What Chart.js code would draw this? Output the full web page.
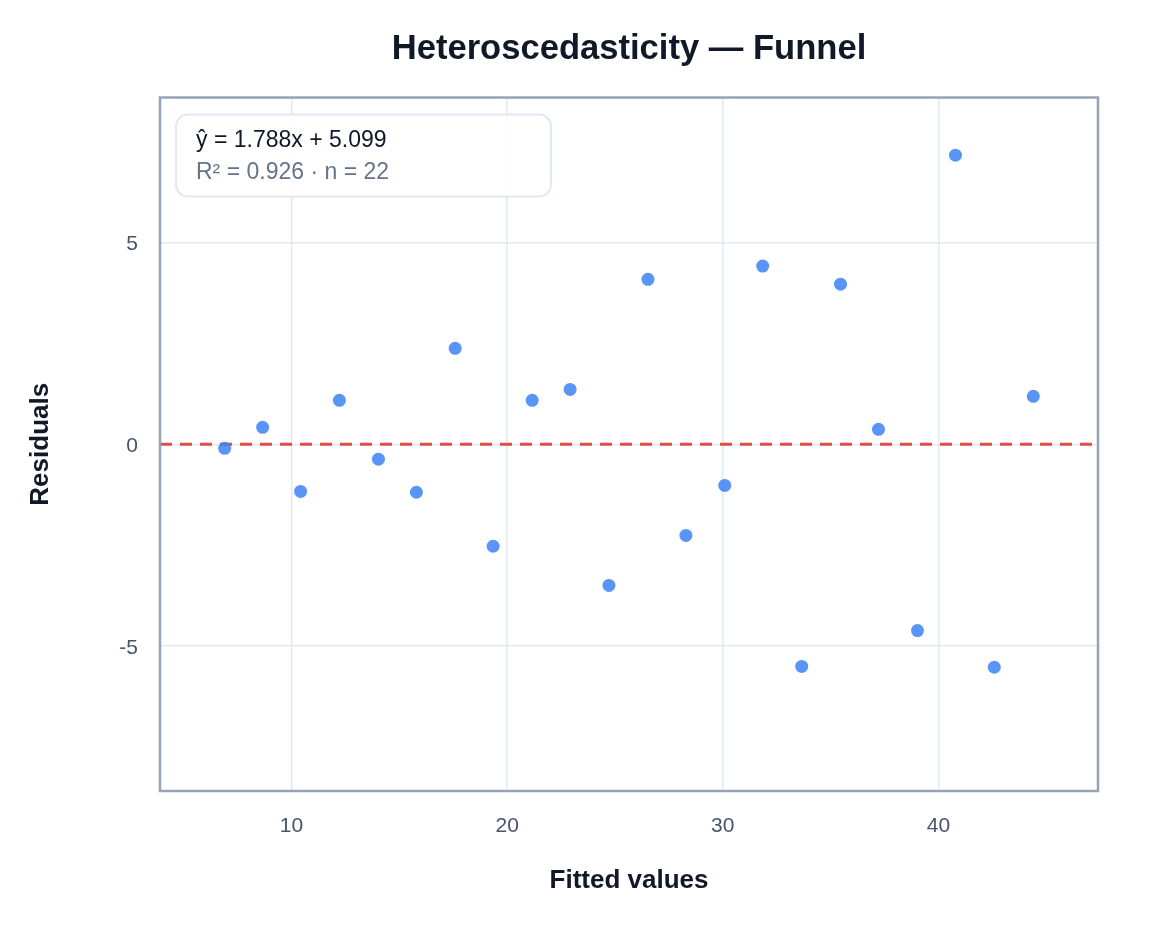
<!DOCTYPE html>
<html>
<head>
<meta charset="utf-8">
<title>Heteroscedasticity — Funnel</title>
<script src="https://cdn.jsdelivr.net/npm/chart.js@4"></script>
<style>
    html, body { margin: 0; padding: 0; background: #ffffff; }
    #wrap { width: 1160px; height: 943px; }
</style>
</head>
<body>
<div id="wrap"><canvas id="residualChart" width="1160" height="943"></canvas></div>
<script>
// Chart data
const fittedValues = [6.90, 8.66, 10.42, 12.22, 14.03, 15.79, 17.59, 19.35, 21.16, 22.92, 24.72,
                      26.53, 28.29, 30.09, 31.85, 33.66, 35.46, 37.22, 39.03, 40.79, 42.59, 44.40];
const residuals = [-0.10, 0.42, -1.17, 1.09, -0.37, -1.19, 2.38, -2.53, 1.09, 1.36, -3.50,
                   4.09, -2.26, -1.02, 4.42, -5.51, 3.97, 0.37, -4.62, 7.17, -5.53, 1.19];
const xRange = [3.9, 47.4];
const yRange = [-8.6, 8.6];
const xTickStep = 10;
const yTickStep = 5;
const zeroLine = 0;
const fitLines = ['ŷ = 1.788x + 5.099', 'R² = 0.926 · n = 22'];

const FONT = '"Liberation Sans", Arial, Helvetica, sans-serif';

// Frame around the plot area + dashed zero line + fit annotation
const decorPlugin = {
    id: 'decor',
    beforeDatasetsDraw(chart) {
        const { ctx, chartArea, scales } = chart;
        const y = scales.y.getPixelForValue(zeroLine);
        ctx.save();
        ctx.strokeStyle = 'rgba(229, 57, 53, 0.9)';
        ctx.lineWidth = 3;
        ctx.setLineDash([12, 8]);
        ctx.beginPath();
        ctx.moveTo(chartArea.left, y);
        ctx.lineTo(chartArea.right, y);
        ctx.stroke();
        ctx.restore();
    },
    afterDraw(chart) {
        const { ctx, chartArea } = chart;
        ctx.save();
        ctx.strokeStyle = '#94a3b8';
        ctx.lineWidth = 2.5;
        ctx.strokeRect(chartArea.left, chartArea.top, chartArea.right - chartArea.left, chartArea.bottom - chartArea.top);

        // annotation box
        const bx = chartArea.left + 16, by = chartArea.top + 17, bw = 375, bh = 82;
        ctx.beginPath();
        ctx.roundRect(bx, by, bw, bh, 12);
        ctx.fillStyle = 'rgba(255, 255, 255, 0.9)';
        ctx.fill();
        ctx.strokeStyle = '#e2e8f0';
        ctx.lineWidth = 2;
        ctx.stroke();

        ctx.textBaseline = 'middle';
        ctx.textAlign = 'left';
        ctx.font = '23px ' + FONT;
        ctx.fillStyle = '#0f172a';
        ctx.fillText(fitLines[0], bx + 20, by + 26);
        ctx.fillStyle = '#64748b';
        ctx.fillText(fitLines[1], bx + 20, by + 58);
        ctx.restore();
    }
};

const ctx = document.getElementById('residualChart').getContext('2d');

new Chart(ctx, {
    type: 'scatter',
    data: {
        datasets: [{
            label: 'Residuals',
            data: fittedValues.map((x, i) => ({ x: x, y: residuals[i] })),
            backgroundColor: 'rgba(59, 130, 246, 0.85)',
            borderWidth: 0,
            pointRadius: 6.5,
            pointHoverRadius: 6.5
        }]
    },
    options: {
        responsive: false,
        animation: false,
        layout: { padding: { left: 0, right: 62, top: 0, bottom: 0 } },
        plugins: {
            legend: { display: false },
            tooltip: { enabled: false },
            title: {
                display: true,
                text: 'Heteroscedasticity — Funnel',
                fullSize: false,
                color: '#111827',
                font: { family: FONT, size: 34.6, weight: 'bold' },
                padding: { top: 29, bottom: 27 }
            }
        },
        scales: {
            x: {
                type: 'linear',
                min: xRange[0],
                max: xRange[1],
                afterFit(scale) { scale.height = 152; },
                border: { display: false },
                grid: { color: '#e2e8f0', lineWidth: 1.5, drawTicks: false },
                ticks: {
                    stepSize: xTickStep,
                    includeBounds: false,
                    padding: 23,
                    color: '#475569',
                    font: { family: FONT, size: 21 }
                },
                title: {
                    display: true,
                    text: 'Fitted values',
                    color: '#111827',
                    font: { family: FONT, size: 26, weight: 'bold' },
                    padding: { top: 0, bottom: 47 }
                }
            },
            y: {
                type: 'linear',
                min: yRange[0],
                max: yRange[1],
                afterFit(scale) { scale.width = 160; },
                border: { display: false },
                grid: { color: '#e2e8f0', lineWidth: 1.5, drawTicks: false },
                ticks: {
                    stepSize: yTickStep,
                    includeBounds: false,
                    padding: 22,
                    labelOffset: 2,
                    color: '#475569',
                    font: { family: FONT, size: 21 }
                },
                title: {
                    display: true,
                    text: 'Residuals',
                    color: '#111827',
                    font: { family: FONT, size: 26, weight: 'bold' },
                    padding: { top: 25, bottom: 0 }
                }
            }
        }
    },
    plugins: [decorPlugin]
});
</script>
</body>
</html>
